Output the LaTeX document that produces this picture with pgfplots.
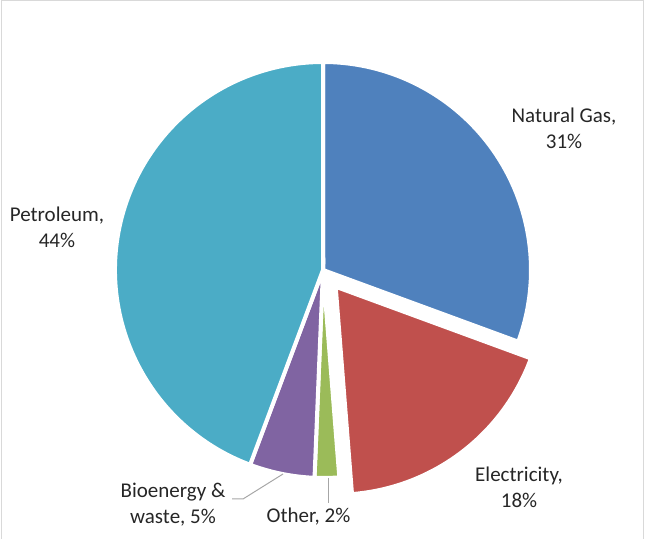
\documentclass[border=0pt]{standalone}
\usepackage{pgfplots}
\usepackage{pgfplotstable}
\pgfplotsset{compat=1.18}
\usetikzlibrary{calc}
\usepackage{fontspec}
\setmainfont{Carlito}

\definecolor{gas}{HTML}{4F81BD}
\definecolor{elec}{HTML}{C0504D}
\definecolor{other}{HTML}{9BBB59}
\definecolor{bio}{HTML}{8064A2}
\definecolor{petro}{HTML}{4BACC6}
\definecolor{txt}{HTML}{262626}
\definecolor{leader}{HTML}{A6A6A6}
\definecolor{frame}{HTML}{D9D9D9}

% share of each source, clockwise from 12 o'clock; explode in pt
\pgfplotstableread{
name         value  explode  color
NaturalGas   30.6   0        gas
Electricity  18.15  21       elec
Other        1.9    0        other
Bioenergy    5.05   0        bio
Petroleum    44.3   0        petro
}\energy

\begin{document}
\begin{tikzpicture}[every node/.style={font=\fontsize{21}{26}\selectfont, text=txt, align=center}]
\begin{axis}[
  x=1pt, y=1pt,
  xmin=0, xmax=645, ymin=0, ymax=538,
  scale only axis, hide axis, clip=false]

\pgfplotsextra{
  \pgfplotstablegetrowsof{\energy}
  \pgfmathtruncatemacro{\nrows}{\pgfplotsretval-1}
  \xdef\cum{0}
  \foreach \i in {0,...,\nrows} {
    \pgfplotstablegetelem{\i}{value}\of{\energy}\let\val\pgfplotsretval
    \pgfplotstablegetelem{\i}{explode}\of{\energy}\let\ex\pgfplotsretval
    \pgfplotstablegetelem{\i}{color}\of{\energy}\let\col\pgfplotsretval
    \pgfmathsetmacro{\a}{90-3.6*\cum}
    \pgfmathsetmacro{\b}{90-3.6*(\cum+\val)}
    \pgfmathsetmacro{\m}{(\a+\b)/2}
    \fill[\col, draw=white, line width=4pt, line join=miter]
      ($(axis cs:323,268)+(\m:\ex pt)$) -- ++(\a:208pt)
      arc[start angle=\a, end angle=\b, radius=208pt] -- cycle;
    \pgfmathsetmacro{\c}{\cum+\val}
    \xdef\cum{\c}
  }
}

% leader lines
\draw[leader, line width=1pt] (axis cs:232,39) -- (axis cs:243,39) -- (axis cs:283,64);
\draw[leader, line width=1pt] (axis cs:328,60) -- (axis cs:328,35);

% data labels
\node at (axis cs:564,410) {Natural Gas,\\31\%};
\node at (axis cs:519,51) {Electricity,\\18\%};
\node at (axis cs:308.5,21) {Other, 2\%};
\node at (axis cs:173,33) {Bioenergy \&\\waste, 5\%};
\node at (axis cs:57,311) {Petroleum,\\44\%};

% chart area border (runs off the bottom)
\draw[frame, line width=1pt] (axis cs:1.5,-10) -- (axis cs:1.5,537) -- (axis cs:643.5,537) -- (axis cs:643.5,-10);
\end{axis}
\pgfresetboundingbox
\path[use as bounding box] (current axis.south west) rectangle (current axis.north east);
\end{tikzpicture}
\end{document}
